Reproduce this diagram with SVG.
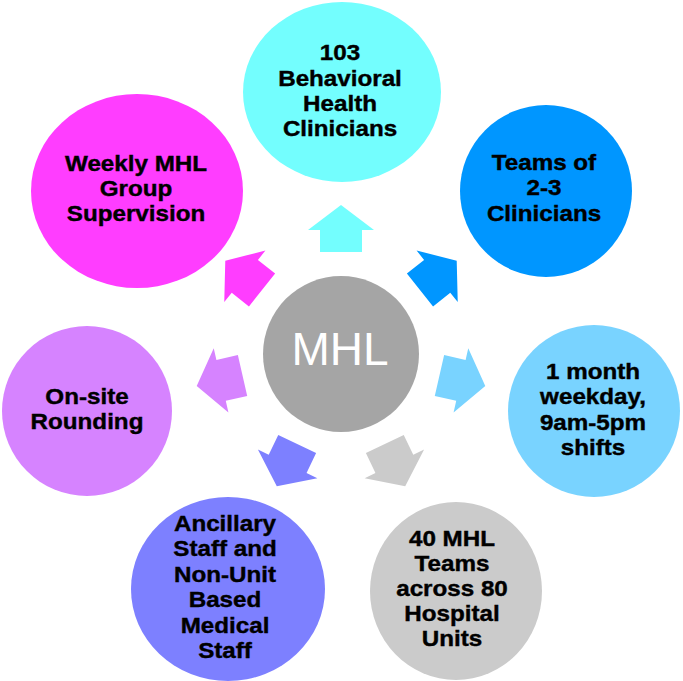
<svg xmlns="http://www.w3.org/2000/svg" width="683" height="681" viewBox="0 0 683 681">
<style>
.lbl{font-family:"Liberation Sans",Arial,sans-serif;font-weight:bold;font-size:22px;fill:#000;stroke:#000;stroke-width:0.4px;text-anchor:middle}
.hub{font-family:"Liberation Sans",Arial,sans-serif;font-size:46px;fill:#fff;text-anchor:middle}
</style>
<defs>
<polygon id="arr" points="-21,0 -21,-22 -33,-22 0,-47 33,-22 21,-22 21,0"/>
</defs>
<rect width="683" height="681" fill="#fff"/>
<g id="connectors">
<use href="#arr" fill="#73FEFE" transform="translate(341 353) rotate(0) translate(0 -101)"/>
<use href="#arr" fill="#0096FF" transform="translate(341 353) rotate(51.43) translate(0 -101)"/>
<use href="#arr" fill="#79D3FF" transform="translate(341 353) rotate(102.86) translate(0 -101)"/>
<use href="#arr" fill="#CBCBCB" transform="translate(341 353) rotate(154.29) translate(0 -101)"/>
<use href="#arr" fill="#7D80FF" transform="translate(341 353) rotate(205.71) translate(0 -101)"/>
<use href="#arr" fill="#D683FF" transform="translate(341 353) rotate(257.14) translate(0 -101)"/>
<use href="#arr" fill="#FF3DFF" transform="translate(341 353) rotate(308.57) translate(0 -101)"/>
</g>
<g id="hub">
<circle cx="341" cy="354" r="78" fill="#A5A5A5"/>
<text class="hub" x="340" y="365">MHL</text>
</g>
<g id="clinicians">
<ellipse cx="342" cy="92" rx="99" ry="90" fill="#73FEFE"/>
<g transform="translate(340 0) scale(1.1 1)">
<text class="lbl" x="0" y="60">103</text>
<text class="lbl" x="0" y="86">Behavioral</text>
<text class="lbl" x="0" y="111">Health</text>
<text class="lbl" x="0" y="136">Clinicians</text>
</g>
</g>
<g id="teams">
<ellipse cx="546" cy="191" rx="86" ry="86" fill="#0096FF"/>
<g transform="translate(544 0) scale(1.1 1)">
<text class="lbl" x="0" y="170">Teams of</text>
<text class="lbl" x="0" y="195">2-3</text>
<text class="lbl" x="0" y="221">Clinicians</text>
</g>
</g>
<g id="shifts">
<ellipse cx="594" cy="411" rx="86" ry="86" fill="#79D3FF"/>
<g transform="translate(593 0) scale(1.1 1)">
<text class="lbl" x="0" y="379">1 month</text>
<text class="lbl" x="0" y="404">weekday,</text>
<text class="lbl" x="0" y="430">9am-5pm</text>
<text class="lbl" x="0" y="455">shifts</text>
</g>
</g>
<g id="units">
<ellipse cx="456" cy="591" rx="86" ry="89" fill="#CBCBCB"/>
<g transform="translate(452 0) scale(1.1 1)">
<text class="lbl" x="0" y="546">40 MHL</text>
<text class="lbl" x="0" y="571">Teams</text>
<text class="lbl" x="0" y="596">across 80</text>
<text class="lbl" x="0" y="621">Hospital</text>
<text class="lbl" x="0" y="646">Units</text>
</g>
</g>
<g id="ancillary">
<ellipse cx="228" cy="589" rx="97" ry="92" fill="#7D80FF"/>
<g transform="translate(225 0) scale(1.1 1)">
<text class="lbl" x="0" y="531">Ancillary</text>
<text class="lbl" x="0" y="556">Staff and</text>
<text class="lbl" x="0" y="582">Non-Unit</text>
<text class="lbl" x="0" y="607">Based</text>
<text class="lbl" x="0" y="633">Medical</text>
<text class="lbl" x="0" y="658">Staff</text>
</g>
</g>
<g id="rounding">
<ellipse cx="87" cy="411" rx="85" ry="85" fill="#D683FF"/>
<g transform="translate(87 0) scale(1.1 1)">
<text class="lbl" x="0" y="404">On-site</text>
<text class="lbl" x="0" y="429">Rounding</text>
</g>
</g>
<g id="supervision">
<ellipse cx="137" cy="191" rx="106" ry="97" fill="#FF3DFF"/>
<g transform="translate(136 0) scale(1.1 1)">
<text class="lbl" x="0" y="171">Weekly MHL</text>
<text class="lbl" x="0" y="196">Group</text>
<text class="lbl" x="0" y="221">Supervision</text>
</g>
</g>
</svg>
